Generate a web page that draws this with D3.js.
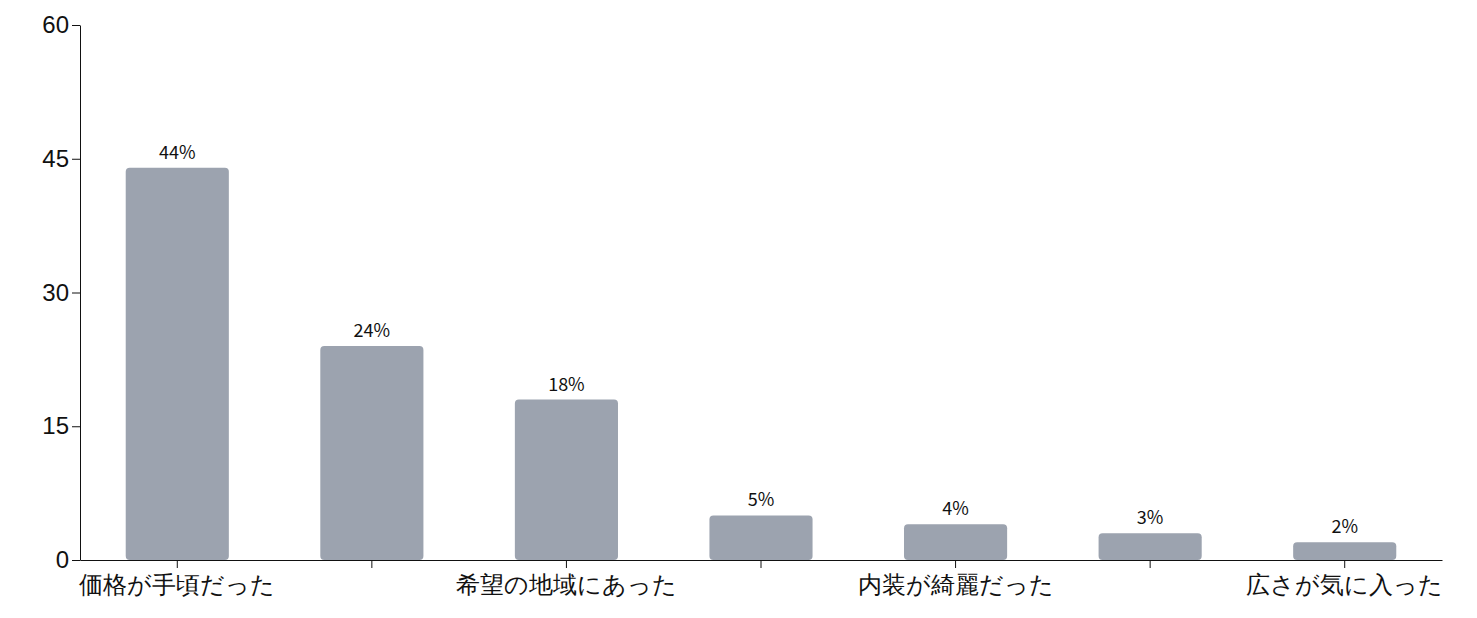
<!DOCTYPE html>
<html><head><meta charset="utf-8">
<script src="https://cdn.jsdelivr.net/npm/d3@7"></script>
<style>body{margin:0;background:#fff}svg{font-family:"Noto Sans CJK JP","Noto Sans",sans-serif}</style>
</head><body><svg id="c" width="1477" height="618"></svg>
<script>
const categories=["価格が手頃だった","駅から近かった","希望の地域にあった","設備が充実していた","内装が綺麗だった","周辺環境が良かった","広さが気に入った"];
const values=[44,24,18,5,4,3,2];
const yTicks=[0,15,30,45,60];
const svg=d3.select("#c");
const m={l:80,r:35,t:25,b:58};
const W=1477,H=618;
const x=d3.scaleBand().domain(categories).range([m.l,W-m.r]).paddingInner(0.47).paddingOuter(0.235);
const y=d3.scaleLinear().domain([0,60]).range([H-m.b,m.t]);
svg.selectAll("rect.bar").data(values).join("rect").attr("class","bar")
 .attr("x",(d,i)=>x(categories[i])).attr("y",d=>y(d)).attr("width",x.bandwidth())
 .attr("height",d=>y(0)-y(d)).attr("rx",4).attr("fill","#9ca3af");
svg.selectAll("text.lbl").data(values).join("text").attr("class","lbl")
 .attr("x",(d,i)=>x(categories[i])+x.bandwidth()/2).attr("y",d=>y(d)-9)
 .attr("text-anchor","middle").attr("font-size",18).attr("fill","#111").text(d=>d+"%");
const ya=svg.append("g").attr("transform",`translate(${m.l},0)`).call(d3.axisLeft(y).tickValues(yTicks).tickSize(8).tickSizeOuter(0));
ya.selectAll("text").attr("font-size",24).attr("fill","#111");
const xa=svg.append("g").attr("transform",`translate(0,${y(0)})`).call(d3.axisBottom(x).tickSize(8).tickSizeOuter(0).tickFormat((d,i)=>i%2===0?d:""));
xa.selectAll("text").attr("font-size",24).attr("fill","#111").attr("dy","0.9em");
svg.selectAll(".domain,.tick line").attr("stroke","#111");
</script></body></html>
